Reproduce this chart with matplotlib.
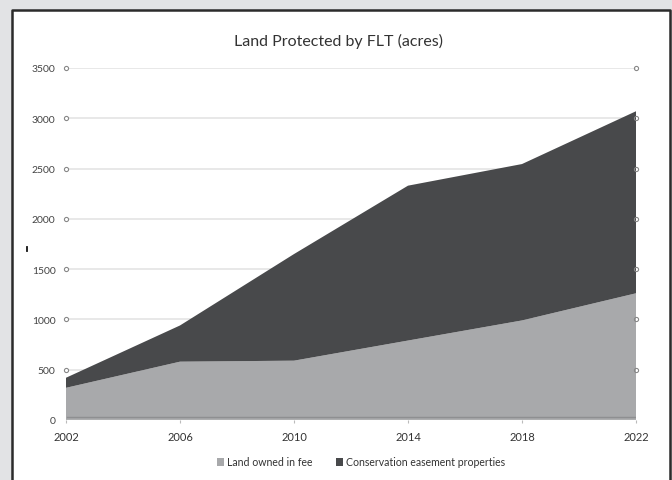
import matplotlib
matplotlib.use("Agg")
import matplotlib.pyplot as plt
from matplotlib.patches import Rectangle
from matplotlib.lines import Line2D

years = [2002, 2006, 2010, 2014, 2018, 2022]
fee = [320, 580, 590, 790, 990, 1260]
easement = [100, 360, 1060, 1540, 1555, 1810]
yticks = [0, 500, 1000, 1500, 2000, 2500, 3000, 3500]
labels = ["Land owned in fee", "Conservation easement properties"]
title = "Land Protected by FLT (acres)"

plt.rcParams['font.family'] = ['Lato', 'DejaVu Sans']

W, H = 672, 481
fig = plt.figure(figsize=(W / 100, H / 100), dpi=100)
fig.patch.set_facecolor('#e2e3e5')

# white panel (no bottom edge) with dark border on left, top, right
x0, x1, ytop = 11.5 / W, 669.5 / W, 1 - 10.5 / H
panel = Rectangle((x0, 0), x1 - x0, ytop, transform=fig.transFigure,
                  facecolor='white', edgecolor='none', zorder=-5)
fig.patches.append(panel)
fig.lines.append(Line2D([x0, x0, x1, x1], [0, ytop, ytop, 0], transform=fig.transFigure,
                        color='#2b2b2b', linewidth=1.8, zorder=-4))

ax = fig.add_axes([66 / W, 1 - 421 / H, (636 - 66) / W, (421 - 69) / H], zorder=1)
ax.set_facecolor('none')

c_fee = '#a8a9ab'
c_ease = '#48494b'
ax.stackplot(years, fee, easement, colors=[c_fee, c_ease], labels=labels,
             linewidth=0, zorder=2)

ax.set_xlim(2002, 2022)
ax.set_ylim(0, 3500)
ax.set_yticks(yticks)
ax.set_xticks(years)
ax.set_yticklabels([str(v) for v in yticks], fontsize=7.5, color='#444444')
ax.set_xticklabels([str(v) for v in years], fontsize=8, color='#333333')
ax.tick_params(axis='y', length=0, pad=7.5)
ax.tick_params(axis='x', length=2, color='#bbbbbb', pad=6)

for v in yticks:
    ax.axhline(v, color='#e4e4e4', linewidth=1.2, zorder=1)
    if v > 0:
        ax.plot([2002], [v], marker='o', ms=3, mfc='white', mec='#888888', mew=0.8,
                clip_on=False, zorder=4)
        ax.plot([2022], [v], marker='o', ms=3, mfc='none', mec='#888888', mew=0.8,
                clip_on=False, zorder=4)

# floor line near zero
ax.axhline(25, color='#8e8f91', linewidth=1.0, zorder=3, xmin=0.002, xmax=0.998)
ax.axhline(0, color='#c8c8c8', linewidth=1.0, zorder=3)

for s in ax.spines.values():
    s.set_visible(False)

fig.text(339 / W, 1 - 41 / H, title, ha='center', va='center', fontsize=11.5,
         color='#333333')

leg = ax.legend(loc='center', bbox_to_anchor=(0.5 + 10 / 570, (421 - 463) / (421 - 69)),
                ncol=2, frameon=False, fontsize=7.6, handlelength=0.7,
                handleheight=0.7, handletextpad=0.3, columnspacing=2.2)
for t in leg.get_texts():
    t.set_color('#333333')

# small stray mark on the left
fig.lines.append(Line2D([27 / W, 27 / W], [1 - 248 / H, 1 - 252 / H],
                        transform=fig.transFigure, color='#111111', linewidth=1.3))

fig.savefig("out.png", dpi=100, facecolor=fig.get_facecolor())
